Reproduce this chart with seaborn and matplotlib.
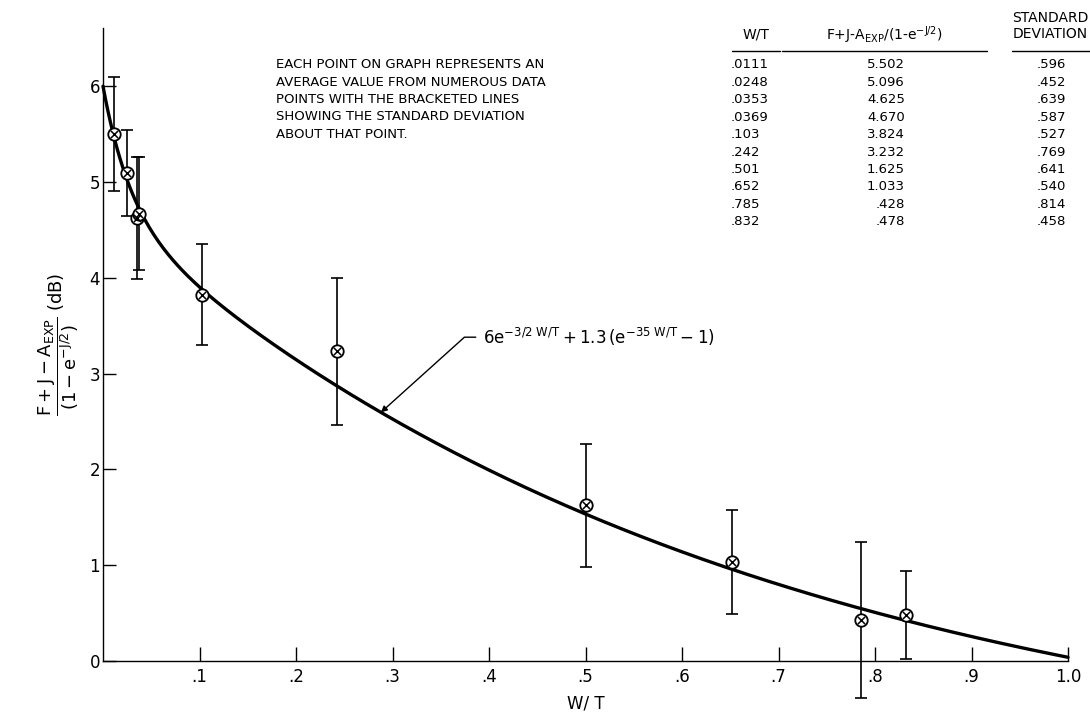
import numpy as np
import pandas as pd
import matplotlib
matplotlib.use('Agg')
import matplotlib.pyplot as plt
from matplotlib.lines import Line2D
import seaborn as sns

# table values
wt = [0.0111, 0.0248, 0.0353, 0.0369, 0.103, 0.242, 0.501, 0.652, 0.785, 0.832]
wt_txt = ['.0111', '.0248', '.0353', '.0369', '.103', '.242', '.501', '.652', '.785', '.832']
val = [5.502, 5.096, 4.625, 4.670, 3.824, 3.232, 1.625, 1.033, 0.428, 0.478]
val_txt = ['5.502', '5.096', '4.625', '4.670', '3.824', '3.232', '1.625', '1.033', '.428', '.478']
sd = [0.596, 0.452, 0.639, 0.587, 0.527, 0.769, 0.641, 0.540, 0.814, 0.458]
sd_txt = ['.596', '.452', '.639', '.587', '.527', '.769', '.641', '.540', '.814', '.458']

# fitted curve shown on the graph: A*e^(-k1 W/T) + B*(e^(-k2 W/T) - 1)
A, k1, B, k2 = 6.0, 1.5, 1.3, 35.0

xticks = [0.1, 0.2, 0.3, 0.4, 0.5, 0.6, 0.7, 0.8, 0.9, 1.0]
xtick_labels = ['.1', '.2', '.3', '.4', '.5', '.6', '.7', '.8', '.9', '1.0']
yticks = [0, 1, 2, 3, 4, 5, 6]

df = pd.DataFrame({'wt': wt, 'val': val, 'sd': sd})
xc = np.linspace(0, 1, 400)
curve = pd.DataFrame({'wt': xc, 'val': A*np.exp(-k1*xc) + B*(np.exp(-k2*xc) - 1)})

sns.set_style('ticks', {'text.color': 'black', 'axes.labelcolor': 'black',
                        'xtick.color': 'black', 'ytick.color': 'black',
                        'axes.edgecolor': 'black'})
plt.rcParams['font.family'] = ['DejaVu Sans']
plt.rcParams['mathtext.fontset'] = 'dejavusans'
plt.rcParams['mathtext.default'] = 'regular'

W, H = 1090, 715
fig = plt.figure(figsize=(10.9, 7.15), dpi=100)
ax = fig.add_axes([103/W, 1-661/H, (1068-103)/W, (661-28)/H])

def px(x, y):
    return (x/W, 1 - y/H)

sns.lineplot(data=curve, x='wt', y='val', color='black', lw=2.4, ax=ax, clip_on=False)
ax.errorbar(df['wt'], df['val'], yerr=df['sd'], fmt='none', ecolor='black',
            elinewidth=1.2, capsize=4.5, capthick=1.2, clip_on=False, zorder=3)
sns.scatterplot(data=df, x='wt', y='val', marker='o', s=80, color='white',
                edgecolor='black', linewidth=1.3, ax=ax, zorder=4, clip_on=False)
sns.scatterplot(data=df, x='wt', y='val', marker='x', s=28, color='black',
                linewidth=1.1, ax=ax, zorder=5, clip_on=False)

ax.set_xlim(0, 1.0)
ax.set_ylim(0, 633/95.8)
ax.set_xticks(xticks)
ax.set_xticklabels(xtick_labels)
ax.set_yticks(yticks)
ax.tick_params(axis='x', direction='in', length=10, width=1, pad=5, labelsize=12)
ax.tick_params(axis='y', direction='in', length=9.5, width=1, pad=2, labelsize=12)
sns.despine(ax=ax)
ax.spines['left'].set_linewidth(1)
ax.spines['bottom'].set_linewidth(1)
ax.set_xlabel('W/ T', fontsize=12, labelpad=6)
ax.set_ylabel(r'$\dfrac{F+J-A_{EXP}}{(1-e^{-J/2})}$ (dB)', fontsize=13, labelpad=6)

# fit formula with leader arrow
x0 = 0.288
ax.annotate(r'$6e^{-3/2\ W/T} + 1.3\,(e^{-35\ W/T} - 1)$',
            xy=(x0, A*np.exp(-k1*x0) + B*(np.exp(-k2*x0) - 1)),
            xytext=(0.394, 3.38), fontsize=12, va='center', ha='left',
            arrowprops=dict(arrowstyle='-|>', color='black', lw=1, shrinkA=3, shrinkB=0,
                            mutation_scale=9,
                            connectionstyle='angle,angleA=0,angleB=42,rad=0'))

note = ('EACH POINT ON GRAPH REPRESENTS AN\nAVERAGE VALUE FROM NUMEROUS DATA\n'
        'POINTS WITH THE BRACKETED LINES\nSHOWING THE STANDARD DEVIATION\nABOUT THAT POINT.')
fig.text(*px(276, 58), note, fontsize=9.5, va='top', ha='left', linespacing=1.45)

# data table in the upper right
fs = 9.5
fig.text(*px(756, 35), 'W/T', fontsize=10, ha='center', va='center')
fig.text(*px(884, 35), r'F+J-A$_{EXP}$/(1-e$^{-J/2}$)', fontsize=10, ha='center', va='center')
fig.text(*px(1050, 26), 'STANDARD\nDEVIATION', fontsize=10, ha='center', va='center',
         linespacing=1.15)
for xa, xb in [(732, 780), (782, 987), (1012, 1090)]:
    fig.add_artist(Line2D([xa/W, xb/W], [1-51/H, 1-51/H], color='black', lw=1))
for i in range(len(wt_txt)):
    yy = 65 + i*17.4
    fig.text(*px(731, yy), wt_txt[i], fontsize=fs, ha='left', va='center')
    fig.text(*px(905, yy), val_txt[i], fontsize=fs, ha='right', va='center')
    fig.text(*px(1066, yy), sd_txt[i], fontsize=fs, ha='right', va='center')

fig.savefig('out.png', dpi=100)
